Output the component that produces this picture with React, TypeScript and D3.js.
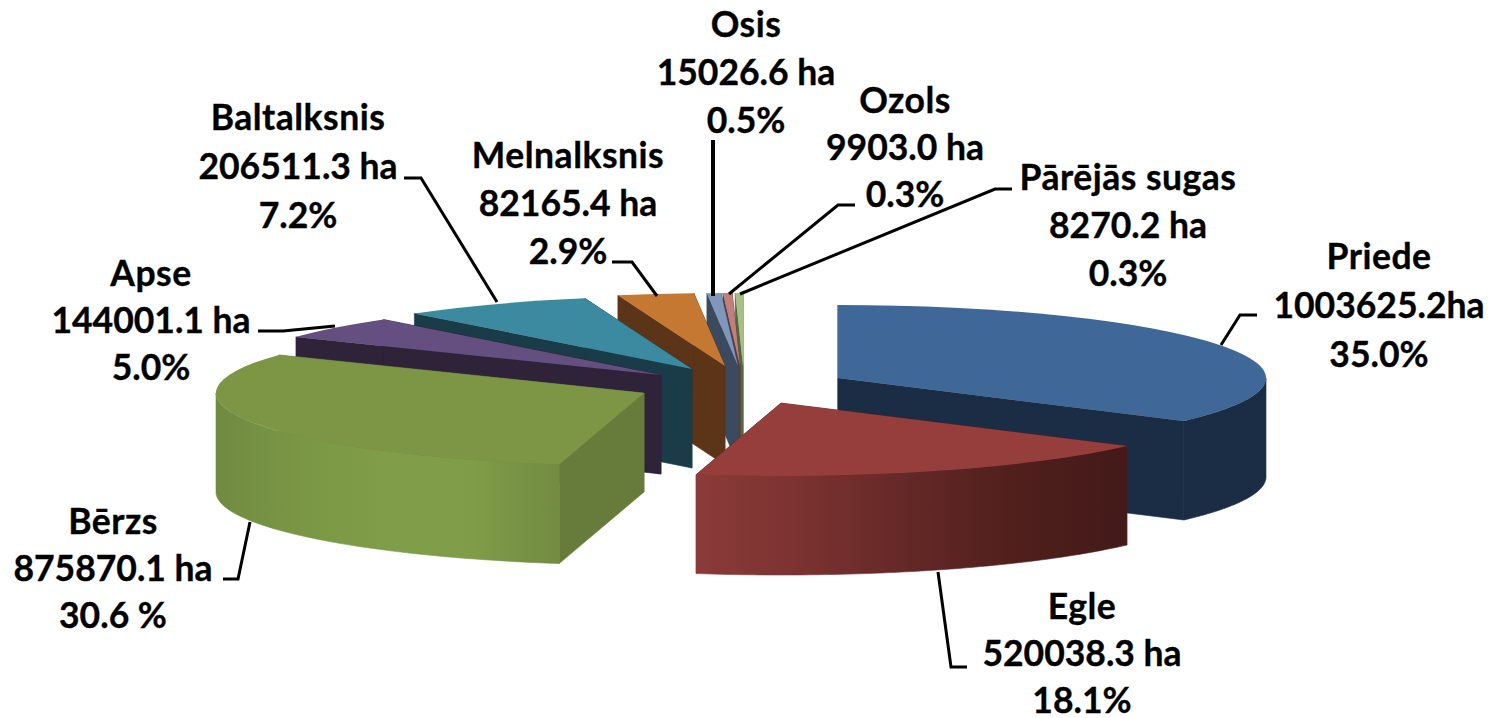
import React from "react";
import * as d3 from "d3";

const species = ["Priede","Egle","Bērzs","Apse","Baltalksnis","Melnalksnis","Osis","Ozols","Pārējās sugas"];
const hectares = [1003625.2,520038.3,875870.1,144001.1,206511.3,82165.4,15026.6,9903.0,8270.2];
const areaLabels = ["1003625.2ha","520038.3 ha","875870.1 ha","144001.1 ha","206511.3 ha","82165.4 ha","15026.6 ha","9903.0 ha","8270.2 ha"];
const shareLabels = ["35.0%","18.1%","30.6 %","5.0%","7.2%","2.9%","0.5%","0.3%","0.3%"];

const topColors = ["#3f6797","#963e3c","#7c9645","#654e80","#3c8aa0","#c47832","#7f97bb","#c07f7d","#a6bf85"];
const wallColors = ["#1b2d45","#5a2422","#677c3a","#2e2339","#1a3c48","#5c3417","#3b4a5e","#5a3d3c","#55663c"];
const outerStops: string[][] = [
  ["#1b2d45","#1b2d45"],
  ["#8b3b39","#7a3230","#632826","#4f1f1c","#431a18"],
  ["#708b40","#7a9745","#809e49","#7f9c48","#728b41"],
];

// exploded position of each slice's apex on the picture
const apexX = [838,781,644,661,692,725,738,740,743];
const apexY = [378,403,393,375,369,366,366,366,366];
const drawOrder = [8,7,6,5,4,3,2,0,1];

const radiusX = 428, radiusY = 73, depth = 99;

const labelX = [1379,1082,113,151,298,568,746,905,1128];
const labelY = [269,619,534,286,130,168,37,113,190];
const lineGaps = [49,47,47,47,49,48,48,47,48];
const leaders: [number,number][][] = [
  [[1221,345],[1240,315],[1257,315]],
  [[938,572],[951,667],[967,667]],
  [[250,522],[238,579],[223,579]],
  [[335,326],[283,331],[258,331]],
  [[497,302],[421,178],[404,178]],
  [[657,296],[632,262],[612,262]],
  [[713,296],[713,140]],
  [[729,294],[838,205],[855,205]],
  [[740,294],[995,189],[1012,189]],
];

export default function App() {
  const slices = d3.pie<number>().sort(null).value(d => d)(hectares);
  const arcGen = d3.arc<any>().innerRadius(0).outerRadius(radiusX);
  const line = d3.line();
  const pt = (a: number, i: number, dz = 0): [number, number] => [
    apexX[i] + radiusX * Math.sin(a),
    apexY[i] - radiusY * Math.cos(a) + dz,
  ];
  const radialWall = (a: number, i: number) =>
    line([[apexX[i], apexY[i]], pt(a, i), pt(a, i, depth), [apexX[i], apexY[i] + depth]]) + "Z";
  const outerWall = (a0: number, a1: number, i: number) => {
    const lo = Math.max(a0, Math.PI / 2), hi = Math.min(a1, 1.5 * Math.PI);
    if (hi <= lo) return null;
    const angles = d3.range(0, 61).map(t => lo + ((hi - lo) * t) / 60);
    const upper = angles.map(a => pt(a, i));
    const lower = angles.slice().reverse().map(a => pt(a, i, depth));
    return line([...upper, ...lower]) + "Z";
  };
  return (
    <svg width={1491} height={718} style={{ position: "absolute", left: 0, top: 0, background: "#fff" }}>
      <defs>
        {outerStops.map((stops, i) => (
          <linearGradient key={i} id={`wall${i}`} x1="0" x2="1" y1="0" y2="0">
            {stops.map((c, j) => (
              <stop key={j} offset={stops.length > 1 ? j / (stops.length - 1) : 0} stopColor={c} />
            ))}
          </linearGradient>
        ))}
      </defs>
      {drawOrder.map(i => {
        const s = slices[i];
        const outer = outerWall(s.startAngle, s.endAngle, i);
        const outerFill = i === 0 ? wallColors[0] : i < outerStops.length ? `url(#wall${i})` : wallColors[i];
        return (
          <g key={i}>
            <path d={radialWall(s.startAngle, i)} fill={wallColors[i]} stroke={wallColors[i]} strokeWidth={0.6} />
            <path d={radialWall(s.endAngle, i)} fill={wallColors[i]} stroke={wallColors[i]} strokeWidth={0.6} />
            {outer && <path d={outer} fill={outerFill} stroke={outerFill} strokeWidth={0.6} />}
            <path
              d={arcGen(s) as string}
              fill={topColors[i]}
              transform={`translate(${apexX[i]},${apexY[i]}) scale(1,${radiusY / radiusX})`}
            />
          </g>
        );
      })}
      {leaders.map((pts, i) => (
        <path key={i} d={line(pts) as string} fill="none" stroke="#000" strokeWidth={i === 6 ? 4 : 3} />
      ))}
      <g fontFamily="Lato" fontWeight={700} fontSize={35.5} fill="#000" stroke="#000" strokeWidth={0.35} textAnchor="middle">
        {species.map((name, i) => (
          <text key={i} x={labelX[i]} y={labelY[i]}>
            <tspan x={labelX[i]} letterSpacing={0.5}>{name}</tspan>
            <tspan x={labelX[i]} dy={lineGaps[i]}>{areaLabels[i]}</tspan>
            <tspan x={labelX[i]} dy={lineGaps[i]}>{shareLabels[i]}</tspan>
          </text>
        ))}
      </g>
    </svg>
  );
}
